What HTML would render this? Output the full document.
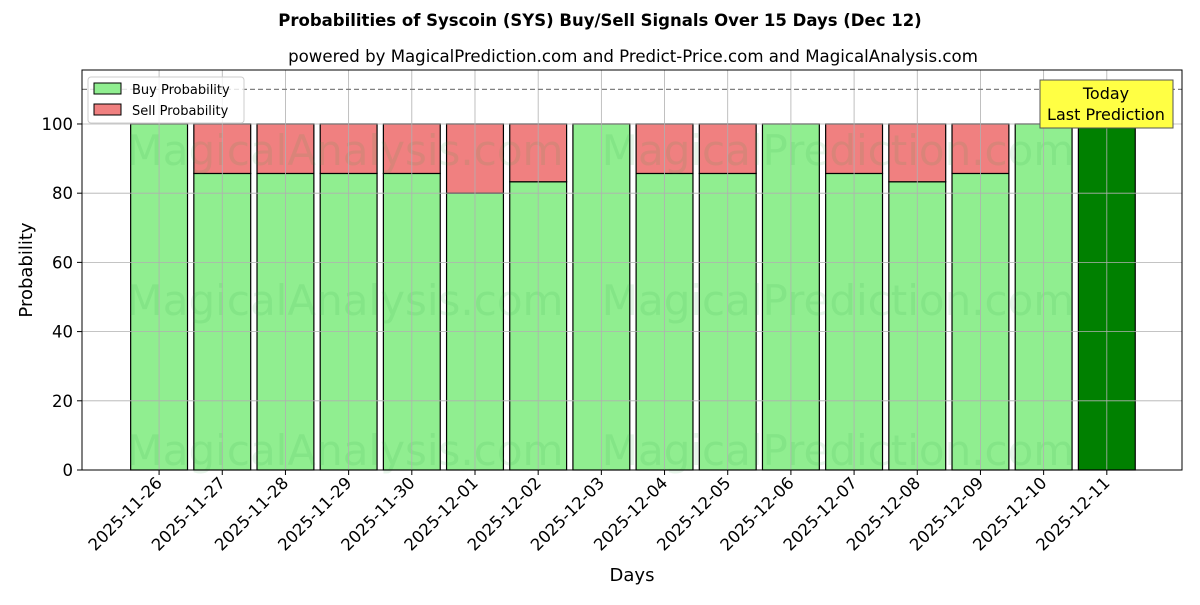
<!DOCTYPE html>
<html><head><meta charset="utf-8"><style>
body{margin:0;background:#fff;font-family:"Liberation Sans","DejaVu Sans",sans-serif}
</style></head><body>
<svg id="chart" width="1200" height="600" xmlns="http://www.w3.org/2000/svg" font-family="DejaVu Sans, Liberation Sans, sans-serif">
<text x="600" y="26" text-anchor="middle" font-size="16.5" font-weight="bold">Probabilities of Syscoin (SYS) Buy/Sell Signals Over 15 Days (Dec 12)</text>
<text x="633" y="62" text-anchor="middle" font-size="16.6">powered by MagicalPrediction.com and Predict-Price.com and MagicalAnalysis.com</text>
<g id="plot"></g>
</svg>
<script>
const categories=["2025-11-26","2025-11-27","2025-11-28","2025-11-29","2025-11-30","2025-12-01","2025-12-02","2025-12-03","2025-12-04","2025-12-05","2025-12-06","2025-12-07","2025-12-08","2025-12-09","2025-12-10","2025-12-11"];
const buyValues=[100,85.7,85.7,85.7,85.7,80,83.3,100,85.7,85.7,100,85.7,83.3,85.7,100,100];
const sellValues=[0,14.3,14.3,14.3,14.3,20,16.7,0,14.3,14.3,0,14.3,16.7,14.3,0,0];
const yTicks=[0,20,40,60,80,100];
const L=82,R=1182,T=70,B=470;
const xMin=-1.22,xMax=16.19,yMax=115.6;
const X=i=>L+(i-xMin)/(xMax-xMin)*(R-L);
const Y=v=>B-v/yMax*(B-T);
const bw=(X(0.9)-X(0));
const ns="http://www.w3.org/2000/svg";
const g=document.getElementById('plot');
function el(t,a,p){const e=document.createElementNS(ns,t);for(const k in a)e.setAttribute(k,a[k]);(p||g).appendChild(e);return e;}
categories.forEach((c,i)=>{
const last=i===categories.length-1;
const x=X(i)-bw/2;
const b=el('rect',{x:x,y:Y(buyValues[i]),width:bw,height:Y(0)-Y(buyValues[i]),fill:last?'#008000':'#90ee90',stroke:'#000','stroke-width':1.2});


if(sellValues[i]>0){const s=el('rect',{x:x,y:Y(buyValues[i]+sellValues[i]),width:bw,height:Y(buyValues[i])-Y(buyValues[i]+sellValues[i]),fill:'#f08080',stroke:'#000','stroke-width':1.2});

}
});
// watermarks
[[345,150,"MagicalAnalysis.com"],[838,150,"MagicalPrediction.com"],[345,300,"MagicalAnalysis.com"],[838,300,"MagicalPrediction.com"],[345,450,"MagicalAnalysis.com"],[838,450,"MagicalPrediction.com"]].forEach(w=>{
const t=el('text',{x:w[0],y:w[1]+15,'text-anchor':'middle','font-size':42,fill:'rgba(40,160,60,0.11)'});t.textContent=w[2];

});
// grid
categories.forEach((c,i)=>{
const gl=el('line',{x1:X(i),x2:X(i),y1:T,y2:B,stroke:'#b0b0b0','stroke-width':0.8});


el('line',{x1:X(i),x2:X(i),y1:B,y2:B+5,stroke:'#000'});
const t=el('text',{x:X(i)+4,y:B+14,'text-anchor':'end','font-size':16.5,transform:`rotate(-45 ${X(i)+4} ${B+14})`});t.textContent=c;


});
yTicks.forEach(v=>{
const gl=el('line',{x1:L,x2:R,y1:Y(v),y2:Y(v),stroke:'#b0b0b0','stroke-width':0.8});


el('line',{x1:L-5,x2:L,y1:Y(v),y2:Y(v),stroke:'#000'});
const t=el('text',{x:L-9,y:Y(v)+6,'text-anchor':'end','font-size':16.5});t.textContent=v;


});
const dl=el('line',{x1:L,x2:R,y1:Y(110),y2:Y(110),stroke:'#808080','stroke-width':1.2,'stroke-dasharray':'5,3'});


const fr=el('rect',{x:L,y:T,width:R-L,height:B-T,fill:'none',stroke:'#000','stroke-width':1});


// legend
const lg=el('g',{});


el('rect',{x:88,y:77,width:156,height:46,rx:3,fill:'rgba(255,255,255,0.8)',stroke:'#ccc'},lg);
el('rect',{x:94,y:83,width:27,height:11,fill:'#90ee90',stroke:'#000'},lg);
el('rect',{x:94,y:104,width:27,height:11,fill:'#f08080',stroke:'#000'},lg);
let t1=el('text',{x:132,y:94,'font-size':13},lg);t1.textContent='Buy Probability';
let t2=el('text',{x:132,y:115,'font-size':13},lg);t2.textContent='Sell Probability';
// annotation
const an=el('g',{});


el('rect',{x:1040,y:80,width:133,height:48,fill:'#ffff44',stroke:'#555'},an);
let a1=el('text',{x:1106,y:99,'text-anchor':'middle','font-size':16},an);a1.textContent='Today';
let a2=el('text',{x:1106,y:120,'text-anchor':'middle','font-size':16},an);a2.textContent='Last Prediction';
const xt=el('text',{x:632,y:581,'text-anchor':'middle','font-size':18});xt.textContent='Days';


const yt=el('text',{x:32,y:270,'text-anchor':'middle','font-size':18,transform:'rotate(-90 32 270)'});yt.textContent='Probability';


</script>
</body></html>
